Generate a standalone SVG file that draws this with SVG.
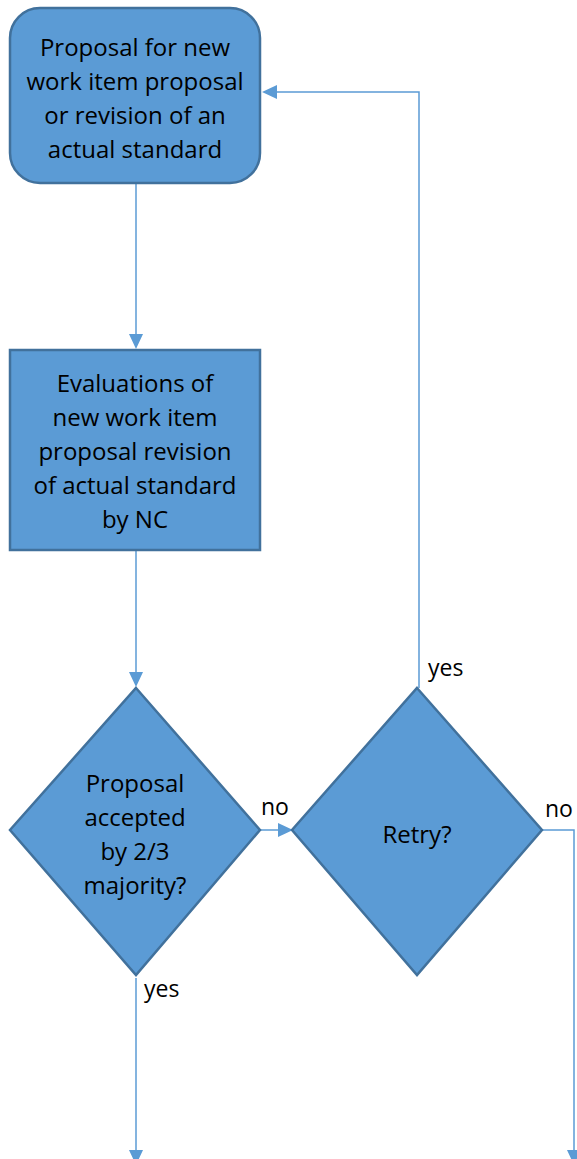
<svg xmlns="http://www.w3.org/2000/svg" width="577" height="1159" viewBox="0 0 577 1159">
<defs>
<style>
.node{fill:#5B9BD5;stroke:#41719C;stroke-width:2.5}
.t{font-family:"Open Sans","Noto Sans",sans-serif;font-size:24px;fill:#000;text-anchor:middle}
.l{font-family:"Open Sans","Noto Sans",sans-serif;font-size:23px;fill:#000}
.c{fill:none;stroke:#5B9BD5;stroke-width:1.5}
.a{fill:#5B9BD5}
</style>
</defs>
<rect width="577" height="1159" fill="#fff"/>
<g id="connectors">
<path class="c" d="M136,183 V336"/>
<polygon class="a" points="129,334 143,334 136,349"/>
<path class="c" d="M136,550 V674"/>
<polygon class="a" points="129,672 143,672 136,687"/>
<path class="c" d="M260,830 H280"/>
<polygon class="a" points="278,823 278,837 293,830"/>
<path class="c" d="M419,688 V92 H276"/>
<polygon class="a" points="277,85 277,99 262,92"/>
<path class="c" d="M543,830 H574 V1152"/>
<polygon class="a" points="567,1150 581,1150 574,1165"/>
<path class="c" d="M136,978 V1152"/>
<polygon class="a" points="129,1150 143,1150 136,1165"/>
<text class="l" x="428" y="676">yes</text>
<text class="l" x="261" y="815">no</text>
<text class="l" x="545" y="817">no</text>
<text class="l" x="144" y="997">yes</text>
</g>
<g id="n1">
<rect class="node" x="10" y="8" width="250" height="175" rx="30"/>
<text class="t" x="135" y="56">Proposal for new</text>
<text class="t" x="135" y="90">work item proposal</text>
<text class="t" x="135" y="124">or revision of an</text>
<text class="t" x="135" y="158">actual standard</text>
</g>
<g id="n2">
<rect class="node" x="10" y="350" width="250" height="200"/>
<text class="t" x="135" y="392">Evaluations of</text>
<text class="t" x="135" y="426">new work item</text>
<text class="t" x="135" y="460">proposal revision</text>
<text class="t" x="135" y="494">of actual standard</text>
<text class="t" x="135" y="528">by NC</text>
</g>
<g id="n3">
<polygon class="node" points="136,688 260,830 136,975 10,830"/>
<text class="t" x="135" y="792">Proposal</text>
<text class="t" x="135" y="826">accepted</text>
<text class="t" x="135" y="860">by 2/3</text>
<text class="t" x="135" y="894">majority?</text>
</g>
<g id="n4">
<polygon class="node" points="417,688 542,830 417,975 292,830"/>
<text class="t" x="417" y="843">Retry?</text>
</g>
</svg>
